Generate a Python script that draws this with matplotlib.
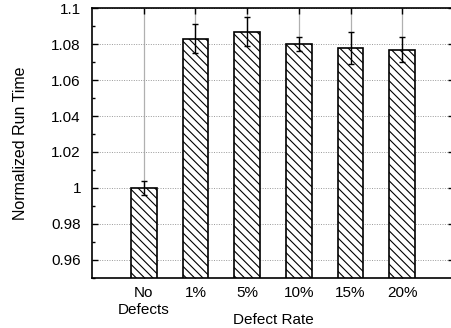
import matplotlib
matplotlib.use("Agg")
import matplotlib.pyplot as plt
from matplotlib.ticker import MultipleLocator

categories = ["No\nDefects", "1%", "5%", "10%", "15%", "20%"]
values = [1.000, 1.083, 1.087, 1.080, 1.078, 1.077]
errors = [0.004, 0.008, 0.008, 0.004, 0.009, 0.007]
yticks = [0.96, 0.98, 1.0, 1.02, 1.04, 1.06, 1.08, 1.1]
ytick_labels = ["0.96", "0.98", "1", "1.02", "1.04", "1.06", "1.08", "1.1"]

plt.rcParams['font.family'] = ['Liberation Sans', 'DejaVu Sans']
plt.rcParams['hatch.linewidth'] = 0.8

W, H = 451, 328
fig = plt.figure(figsize=(W / 100, H / 100), dpi=100)
ax_left, ax_right, ax_top, ax_bottom = 92, 454, 8.3, 277.7
ax = fig.add_axes([ax_left / W, (H - ax_bottom) / H,
                   (ax_right - ax_left) / W, (ax_bottom - ax_top) / H])

x = list(range(1, len(categories) + 1))
ax.bar(x, values, width=0.5, bottom=0, color="white", edgecolor="black",
       linewidth=1.2, hatch="\\\\\\\\", zorder=3)
ax.errorbar(x, values, yerr=errors, fmt="none", ecolor="black",
            elinewidth=1.0, capsize=2.0, capthick=1.0, zorder=4)

ax.set_xlim(0, 7)
ax.set_ylim(0.95, 1.1)
ax.set_xticks(x)
ax.set_xticklabels(categories, fontsize=11, linespacing=1.3)
ax.set_yticks(yticks)
ax.set_yticklabels(ytick_labels, fontsize=11)
ax.yaxis.set_minor_locator(MultipleLocator(0.01))

ax.tick_params(axis="both", which="major", direction="in", length=4, width=1,
               top=True, right=True, pad=6)
ax.tick_params(axis="y", which="major", pad=8)
ax.tick_params(axis="y", which="minor", direction="in", length=2.5, width=1,
               right=True, left=True)

ax.yaxis.grid(True, linestyle=(0, (1, 1.5)), color="#999999", linewidth=0.7, zorder=0)
ax.xaxis.grid(True, linestyle="-", color="#b0b0b0", linewidth=0.9, zorder=0)
ax.set_axisbelow(True)

for s in ax.spines.values():
    s.set_linewidth(1.2)
    s.set_zorder(5)

ax.set_ylabel("Normalized Run Time", fontsize=11.5, labelpad=17)
ax.set_xlabel("Defect Rate", fontsize=11)
baseline_px = 324.5
ax.xaxis.set_label_coords(0.5, -(baseline_px - ax_bottom) / (ax_bottom - ax_top))
ax.xaxis.label.set_verticalalignment("baseline")

fig.savefig("out.png", dpi=100)
